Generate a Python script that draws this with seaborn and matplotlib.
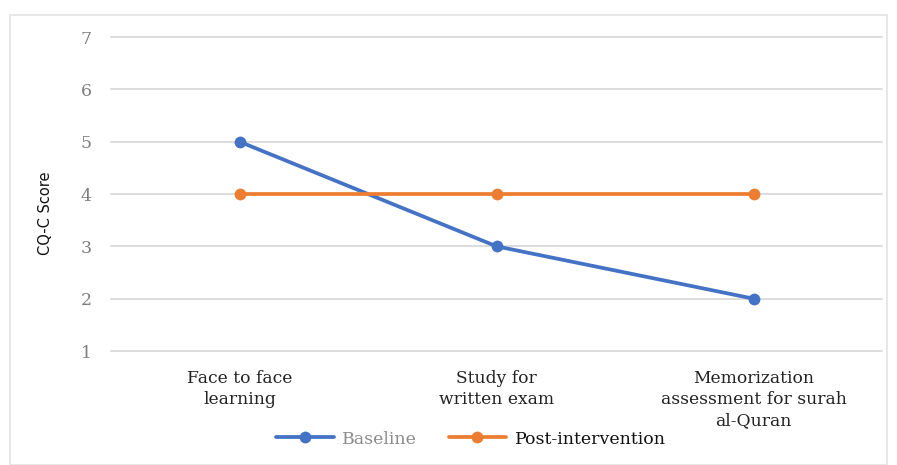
import matplotlib
matplotlib.use("Agg")
import matplotlib.pyplot as plt
import matplotlib.patches as mpatches
import seaborn as sns
import pandas as pd

categories = ["Face to face\nlearning", "Study for\nwritten exam",
              "Memorization\nassessment for surah\nal-Quran"]
baseline = [5, 3, 2]
post_intervention = [4, 4, 4]
series_names = ["Baseline", "Post-intervention"]
y_ticks = [1, 2, 3, 4, 5, 6, 7]

df = pd.DataFrame({
    "Activity": categories * 2,
    "Score": baseline + post_intervention,
    "Series": [series_names[0]] * 3 + [series_names[1]] * 3,
})

sns.set_theme(style="white")
plt.rcParams["font.family"] = ["DejaVu Sans"]

fig = plt.figure(figsize=(8.97, 4.65), dpi=100)
ax = fig.add_axes([111 / 897, 1 - 351 / 465, 771 / 897, 314 / 465])

# light frame around the whole chart
fig.patches.append(mpatches.Rectangle((10 / 897, 0), 877 / 897, 1 - 15 / 465,
                                      transform=fig.transFigure, fill=False,
                                      edgecolor="#e3e3e3", linewidth=1.2))

ax.set_xlim(-0.5, 2.5)
ax.set_ylim(1, 7)

# horizontal gridlines, drawn unclipped so the outer ones keep full width
for v in y_ticks:
    ax.axhline(v, color="#d9d9d9", linewidth=1.3, zorder=1, clip_on=False)

palette = {"Baseline": "#4472C4", "Post-intervention": "#ED7D31"}
sns.lineplot(data=df, x="Activity", y="Score", hue="Series", palette=palette,
             marker="o", markersize=8.5, markeredgewidth=0, linewidth=2.7,
             sort=False, ax=ax, legend=False, zorder=3)

ax.set_xlim(-0.5, 2.5)
ax.set_ylim(1, 7)
ax.set_yticks(y_ticks)
ax.set_yticklabels([str(v) for v in y_ticks], family="DejaVu Serif",
                   fontsize=12.5, color="#7f7f7f")
ax.set_xticks(range(len(categories)))
ax.set_xticklabels(categories, family="DejaVu Serif", fontsize=12.3,
                   color="#222222", linespacing=1.3)
ax.tick_params(axis="y", length=0, pad=14)
ax.tick_params(axis="x", length=0, pad=14)
ax.grid(False)
for s in ax.spines.values():
    s.set_visible(False)
ax.set_xlabel("")
ax.set_ylabel("CQ-C Score", fontsize=10.5, color="#111111")
ax.yaxis.set_label_coords(-0.075, 0.44)

handles = [plt.Line2D([], [], color=palette[n], marker="o", markersize=8.5,
                      markeredgewidth=0, linewidth=2.7) for n in series_names]
leg = fig.legend(handles, series_names, loc="center", ncol=2,
                 bbox_to_anchor=(471 / 897, 1 - 439 / 465), frameon=False,
                 prop={"family": "DejaVu Serif", "size": 12.5},
                 handlelength=3.3, columnspacing=1.8, handletextpad=0.5)
leg.get_texts()[0].set_color("#8c8c8c")
leg.get_texts()[1].set_color("#111111")

fig.savefig("out.png", dpi=100, facecolor="white")
